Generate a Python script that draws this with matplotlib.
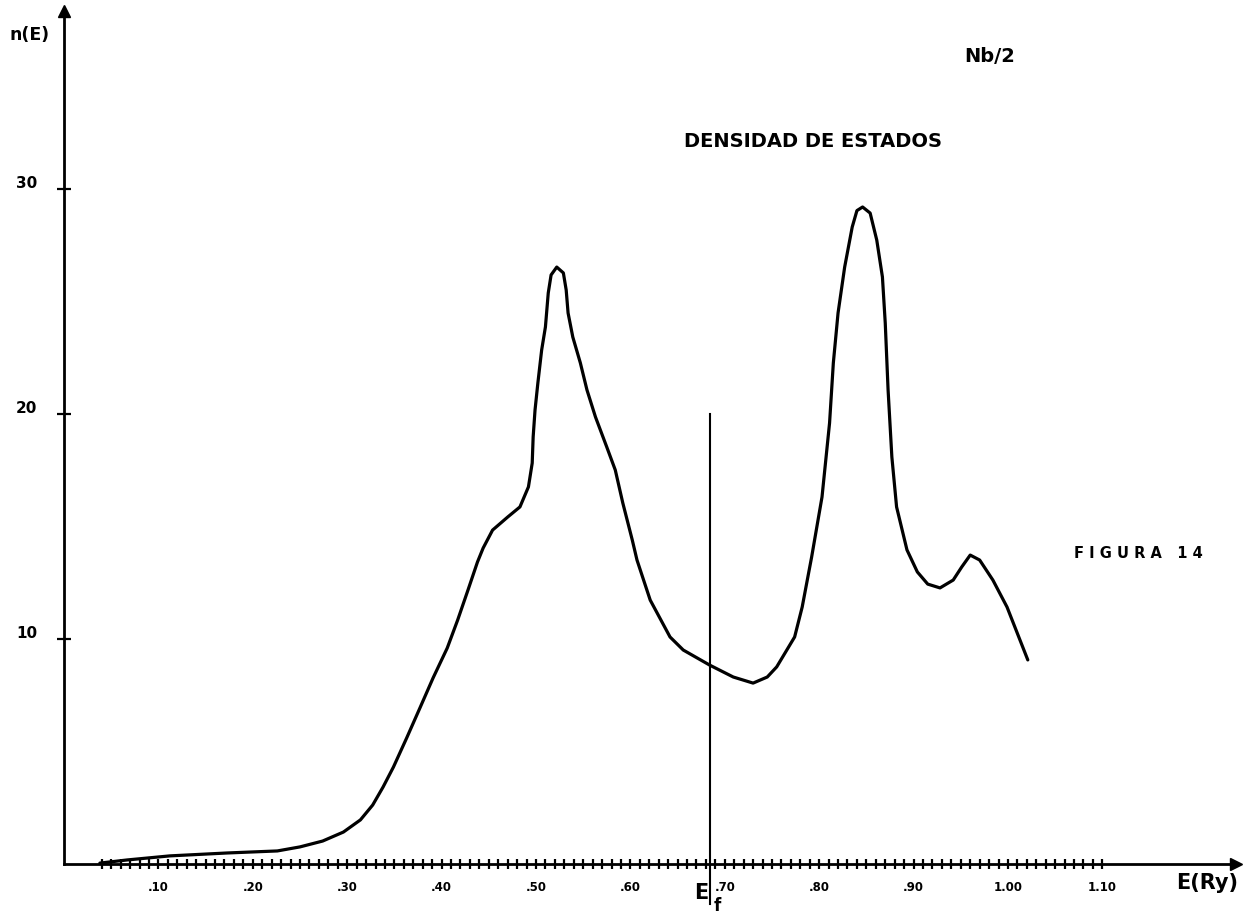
import numpy as np
import matplotlib
matplotlib.use('Agg')
from matplotlib import pyplot as plt
from matplotlib.transforms import ScaledTranslation

# density of states n(E), E in Ry
energy = [0.038, 0.067, 0.112, 0.173, 0.226, 0.250, 0.274, 0.296, 0.314, 0.327,
          0.338, 0.349, 0.363, 0.377, 0.391, 0.406, 0.417, 0.428, 0.438, 0.444,
          0.454, 0.470, 0.483, 0.492, 0.496, 0.497, 0.499, 0.502, 0.506, 0.510,
          0.513, 0.516, 0.522, 0.529, 0.532, 0.534, 0.539, 0.547, 0.554, 0.563,
          0.575, 0.584, 0.592, 0.602, 0.607, 0.621, 0.642, 0.656, 0.684, 0.709,
          0.730, 0.745, 0.755, 0.774, 0.782, 0.792, 0.803, 0.811, 0.815, 0.820,
          0.827, 0.835, 0.840, 0.846, 0.854, 0.861, 0.867, 0.870, 0.873, 0.877,
          0.882, 0.893, 0.904, 0.915, 0.928, 0.942, 0.951, 0.960, 0.970, 0.984,
          0.999, 1.021]
density = [0.04, 0.18, 0.36, 0.49, 0.58, 0.76, 1.02, 1.42, 1.96, 2.62,
           3.42, 4.31, 5.60, 6.93, 8.27, 9.60, 10.84, 12.18, 13.42, 14.04,
           14.84, 15.42, 15.87, 16.76, 17.82, 18.98, 20.18, 21.38, 22.84, 23.87,
           25.38, 26.18, 26.53, 26.27, 25.51, 24.49, 23.42, 22.27, 21.07, 19.87,
           18.53, 17.51, 16.04, 14.40, 13.51, 11.73, 10.09, 9.51, 8.84, 8.31,
           8.04, 8.31, 8.76, 10.09, 11.42, 13.64, 16.31, 19.60, 22.27, 24.49,
           26.53, 28.31, 29.04, 29.20, 28.93, 27.73, 26.09, 24.04, 21.07, 18.09,
           15.87, 13.96, 12.98, 12.44, 12.27, 12.62, 13.20, 13.73, 13.51, 12.62,
           11.42, 9.07]

fermi_energy = 0.684
fermi_top = 20

x_ticks = [0.10, 0.20, 0.30, 0.40, 0.50, 0.60, 0.70, 0.80, 0.90, 1.00, 1.10]
x_tick_labels = ['.10', '.20', '.30', '.40', '.50', '.60', '.70', '.80', '.90', '1.00', '1.10']
x_minor = np.round(np.arange(4, 111) / 100.0, 2)
y_ticks = [10, 20, 30]
y_tick_labels = ['10', '20', '30']

plt.rcParams['font.family'] = ['DejaVu Sans']
plt.rcParams['font.weight'] = 'bold'

figure = plt.figure(figsize=(12.45, 9.13), dpi=100)
axis = figure.add_axes([0, 0, 1, 1])
axis.set_xlim(-0.0678, 1.2511)
axis.set_ylim(-2.178, 38.4)

for side in ['top', 'right']:
    axis.spines[side].set_visible(False)
axis.spines['left'].set_position(('data', 0))
axis.spines['bottom'].set_position(('data', 0))
axis.spines['left'].set_bounds(0, 37.6)
axis.spines['bottom'].set_bounds(0, 1.24)
axis.spines['left'].set_linewidth(2)
axis.spines['bottom'].set_linewidth(2)

# arrow heads on the axes
axis.plot([0], [37.9], marker='^', markersize=9, color='black', clip_on=False)
axis.plot([1.242], [0], marker='>', markersize=9, color='black', clip_on=False)

axis.set_xticks(x_ticks)
axis.set_xticklabels(x_tick_labels)
axis.set_xticks(x_minor, minor=True)
axis.tick_params(axis='x', which='both', direction='inout', length=7, width=1.6,
                 pad=9, labelsize=8.5)
axis.set_yticks(y_ticks)
axis.set_yticklabels(y_tick_labels)
axis.tick_params(axis='y', which='both', direction='inout', length=10, width=1.6,
                 pad=14, labelsize=11)
for label in axis.get_yticklabels():
    label.set_transform(label.get_transform() + ScaledTranslation(0, 5 / 72, figure.dpi_scale_trans))

axis.plot(energy, density, color='black', linewidth=2.3, solid_capstyle='round',
          solid_joinstyle='round')
axis.plot([fermi_energy, fermi_energy], [fermi_top, -1.8], color='black', linewidth=1.5, clip_on=False)

axis.text(-0.0148, 36.84, 'n(E)', ha='right', va='center', fontsize=12.5, fontweight='bold')
axis.text(1.211, -0.85, 'E(Ry)', ha='center', va='center', fontsize=15, fontweight='bold')
axis.text(0.675, -1.3, 'E', ha='center', va='center', fontsize=15, fontweight='bold')
axis.text(0.692, -1.85, 'f', ha='center', va='center', fontsize=12, fontweight='bold')
axis.text(0.981, 35.9, 'Nb/2', ha='center', va='center', fontsize=14, fontweight='bold')
axis.text(0.7934, 32.1, 'DENSIDAD DE ESTADOS', ha='center', va='center', fontsize=14, fontweight='bold')
axis.text(1.1377, 13.78, 'F I G U R A   1 4', ha='center', va='center', fontsize=10.5, fontweight='bold')

plt.savefig('out.png', dpi=100)
